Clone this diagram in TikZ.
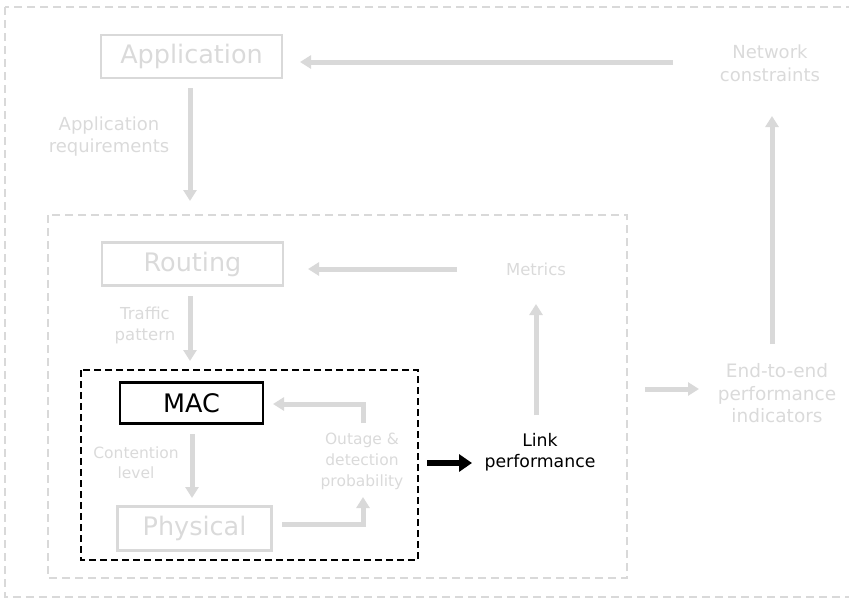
\documentclass[tikz,border=0pt]{standalone}
\usepackage{fontspec}
\setmainfont{DejaVu Sans}
\usetikzlibrary{arrows.meta}
\definecolor{lg}{HTML}{D9D9D9}
\definecolor{lt}{HTML}{DADADA}
\tikzset{
  layerbox/.style={draw=lg, line width=2.5pt, minimum width=181pt, minimum height=43pt, inner sep=0pt, font=\fontsize{25.5}{28}\selectfont, text=lt},
  lbl/.style={align=center, text=lt, inner sep=0pt},
  garrow/.style={draw=lg, line width=5pt, -{Triangle[width=13pt,length=11pt]}},
  barrow/.style={draw=black, line width=5.5pt, -{Triangle[width=17pt,length=13pt]}},
}
\begin{document}
\begin{tikzpicture}[x=1pt,y=-1pt]
\useasboundingbox (0,0) rectangle (849,600);
% frames
\draw[lg, line width=2pt, dash pattern=on 8pt off 5pt] (5,7) rectangle (860,597);
\draw[lg, line width=2pt, dash pattern=on 8pt off 5pt] (48,215) rectangle (627,578);
\draw[black, line width=2.5pt, dash pattern=on 7pt off 4pt] (81,370) rectangle (418,560);
% boxes
\node[layerbox] (app) at (191.5,56.5) {Application};
\node[layerbox] (rout) at (192.5,264) {Routing};
\node[layerbox, draw=black, text=black, line width=2.5pt, minimum width=143pt, minimum height=41pt] (mac) at (191.5,403) {MAC};
\node[layerbox, minimum width=154pt, minimum height=44pt] (phy) at (194.5,528.5) {Physical};
% labels
\node[lbl, font=\fontsize{18}{23}\selectfont] (net) at (770,63.5) {Network\\constraints};
\node[lbl, font=\fontsize{18}{22}\selectfont] (appreq) at (109,137) {Application\\requirements};
\node[lbl, font=\fontsize{16.5}{20}\selectfont] (metrics) at (536,269) {Metrics};
\node[lbl, font=\fontsize{16.5}{21}\selectfont] (traffic) at (145,325.5) {Traffic\\pattern};
\node[lbl, font=\fontsize{15.5}{20}\selectfont] (cont) at (136,463) {Contention\\level};
\node[lbl, font=\fontsize{15.5}{21}\selectfont] (outage) at (362,461) {Outage \&\\detection\\probability};
\node[lbl, text=black, font=\fontsize{17.3}{21}\selectfont] (link) at (540,452.5) {Link\\performance};
\node[lbl, font=\fontsize{18.5}{22.5}\selectfont] (e2e) at (777,393.5) {End-to-end\\performance\\indicators};
% helper coordinates
\coordinate (netS) at (673,62);
\coordinate (appE) at (300,62);
\coordinate (appB) at (190,88);
\coordinate (routT) at (190,201);
\coordinate (metW) at (457,269);
\coordinate (routE) at (308,269);
\coordinate (routB) at (190,296);
\coordinate (macT) at (190,361);
\coordinate (macB) at (192,434);
\coordinate (phyT) at (192,498);
\coordinate (phyE) at (282,524);
\coordinate (outB) at (363,497);
\coordinate (outT) at (363,423);
\coordinate (macE) at (273,404);
\coordinate (boxE) at (427,463);
\coordinate (linkW) at (472,463);
\coordinate (linkT) at (536,415);
\coordinate (metS) at (536,304);
\coordinate (e2eS) at (645,389);
\coordinate (e2eW) at (699,389);
\coordinate (e2eT) at (772,344);
\coordinate (netB) at (772,116);
% connectors
\draw[garrow] (netS) -- (appE);
\draw[garrow] (appB) -- (routT);
\draw[garrow] (metW) -- (routE);
\draw[garrow] (routB) -- (macT);
\draw[garrow] (macB) -- (phyT);
\draw[garrow] (phyE) -| (outB);
\draw[garrow] (outT) |- (macE);
\draw[barrow] (boxE) -- (linkW);
\draw[garrow] (linkT) -- (metS);
\draw[garrow] (e2eS) -- (e2eW);
\draw[garrow] (e2eT) -- (netB);
\end{tikzpicture}
\end{document}
